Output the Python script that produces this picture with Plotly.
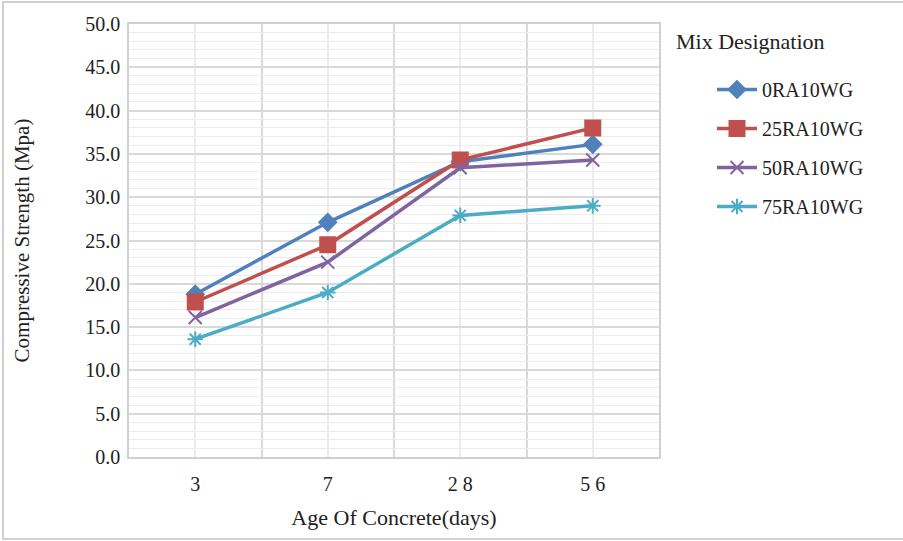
import plotly.graph_objects as go

ages = ["3", "7", "28", "56"]
age_labels = ["3", "7", "2 8", "5 6"]
s0 = [18.8, 27.1, 34.1, 36.1]
s25 = [17.9, 24.5, 34.3, 38.0]
s50 = [16.1, 22.5, 33.4, 34.3]
s75 = [13.6, 19.0, 27.9, 29.0]
names = ["0RA10WG", "25RA10WG", "50RA10WG", "75RA10WG"]

colors = ["#4F81BD", "#C0504D", "#8064A2", "#4BACC6"]
symbols = ["diamond", "square", "x-thin-open", "asterisk-open"]
sizes = [13, 15, 13, 13]

xpos = list(range(len(ages)))
bounds = [i - 0.5 for i in range(len(ages) + 1)]

fig = go.Figure()
for i, (nm, vals) in enumerate(zip(names, [s0, s25, s50, s75])):
    fig.add_trace(go.Scatter(
        x=xpos, y=vals, name=nm, mode="lines+markers",
        legendgroup=nm,
        line=dict(color=colors[i], width=3.5),
        marker=dict(symbol=symbols[i], size=sizes[i], color=colors[i],
                    line=dict(color=colors[i], width=2)),
    ))

W, H = 903, 541
L, T = 129, 24
pw, ph = 530, 433
R, B = W - L - pw, H - T - ph
# outer frame
fig.add_shape(type="rect", xref="paper", yref="paper",
              x0=(3 - L) / pw, x1=(930 - L) / pw,
              y0=-(539 - T - ph) / ph, y1=1 + (T - 2) / ph,
              line=dict(color="#d0d0d0", width=2))

font = "Liberation Serif, Times New Roman, serif"
fig.add_annotation(text="Mix Designation", xref="paper", yref="paper",
                   x=(674 - L) / pw, y=1 - (41 - T) / ph, xanchor="left", yanchor="middle",
                   showarrow=False, font=dict(family=font, size=22, color="#222"))

fig.update_layout(
    width=W, height=H,
    margin=dict(l=L, r=R, t=T, b=B, autoexpand=False),
    paper_bgcolor="white", plot_bgcolor="white",
    font=dict(family=font, size=20, color="#222"),
    showlegend=True,
    legend=dict(x=(712 - L) / pw, y=1 - (70 - T) / ph, xanchor="left", yanchor="top",
                tracegroupgap=10, font=dict(family=font, size=20, color="#222"),
                itemwidth=40, bgcolor="rgba(0,0,0,0)"),
    xaxis=dict(
        range=[bounds[0], bounds[-1]],
        tickmode="array", tickvals=xpos, ticktext=age_labels,
        showgrid=True, gridcolor="#ececec", gridwidth=1.5,
        minor=dict(tickmode="array", tickvals=bounds, showgrid=True,
                   gridcolor="#d9d9d9", gridwidth=1.5),
        showline=True, linecolor="#d0d0d0", linewidth=1.5, mirror=True,
        ticks="", ticklabelstandoff=8, zeroline=False, automargin=False,
        title=dict(text="Age Of Concrete(days)", font=dict(size=22), standoff=16),
    ),
    yaxis=dict(
        range=[0, 50], dtick=5, tickformat=".1f",
        showgrid=True, gridcolor="#d9d9d9", gridwidth=1.5,
        minor=dict(dtick=1, showgrid=True, gridcolor="#ececec", gridwidth=1),
        showline=True, linecolor="#d0d0d0", linewidth=1.5, mirror=True,
        ticks="", zeroline=False, ticklabelstandoff=3, automargin=False,
        title=dict(text="Compressive Strength (Mpa)", font=dict(size=21), standoff=50),
    ),
)

fig.write_html("out.html", config={"displayModeBar": False},
               post_script="document.body.style.margin='0';")
